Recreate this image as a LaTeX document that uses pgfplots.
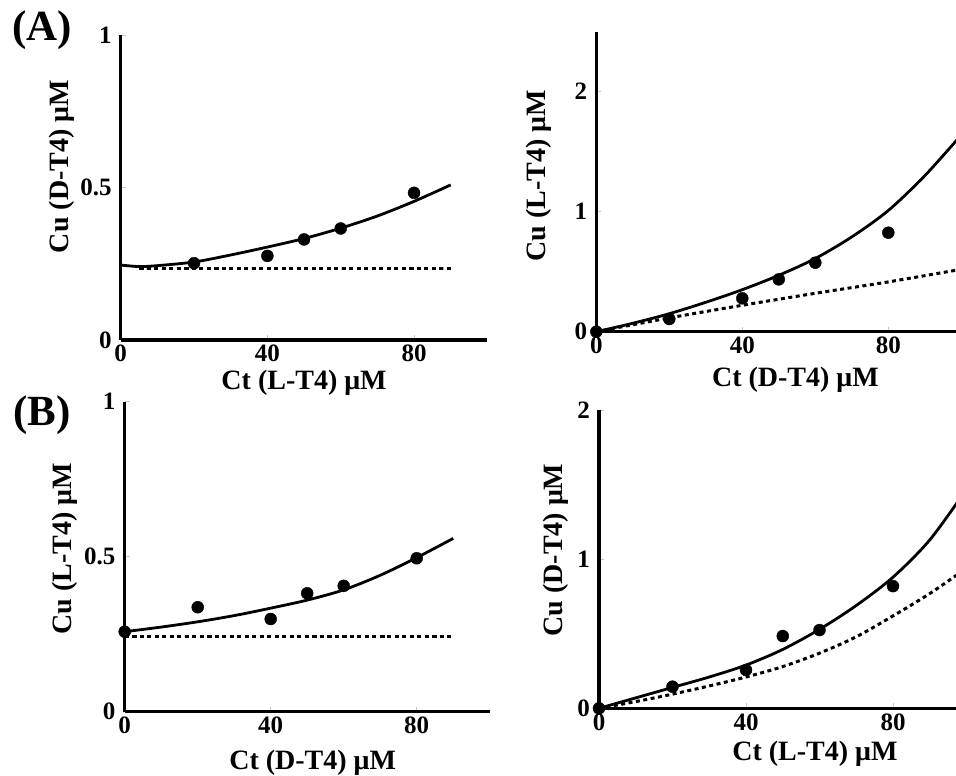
\documentclass[border=0pt]{standalone}
\usepackage{fontspec}
\setmainfont{Liberation Serif}
\usepackage{pgfplots}
\pgfplotsset{compat=1.18}

\newcommand{\labfont}{\bfseries\fontsize{28}{28}\selectfont}
\pgfplotsset{
  panel/.style={
    scale only axis,
    axis lines*=left,
    axis line style={line width=3.5pt},
    xmin=0, ymin=0,
    clip=false,
    tick align=inside,
    major tick length=5pt,
    tick style={draw=gray!45, line width=0.6pt},
    xtick={0,40,80}, xticklabels={0,40,80},
    xticklabel style={font=\bfseries\fontsize{25}{25}\selectfont, anchor=north, inner sep=0pt, yshift=-5pt},
    yticklabel style={font=\bfseries\fontsize{25}{25}\selectfont, anchor=east, inner sep=0pt, xshift=-9pt},
  },
  xlab/.style 2 args={every axis x label/.style={at={(axis description cs:#1,0)}, anchor=center, yshift=-#2, font=\labfont}},
  ylab/.style 2 args={every axis y label/.style={at={(axis description cs:0,#1)}, anchor=center, xshift=-#2, rotate=90, font=\labfont}},
  fit/.style={black, line width=2.8pt, smooth},
  base/.style={black, line width=3pt, dash pattern=on 4pt off 3.5pt, smooth},
  obs/.style={only marks, mark=*, mark size=6pt, black},
}

\begin{document}
\begin{tikzpicture}
\path[use as bounding box, clip] (0,0) rectangle (956pt,776pt);

\node[font=\bfseries\fontsize{43}{43}\selectfont] at (42pt,746pt) {(A)};
\node[font=\bfseries\fontsize{43}{43}\selectfont] at (42pt,361pt) {(B)};

% (A) left
\begin{axis}[panel, at={(120.7pt,436pt)}, anchor=south west,
  width=366.7pt, height=304.7pt, xmax=100, ymax=1,
  ytick={0,0.5,1}, yticklabels={0,0.5,1},
  xlabel={Ct (L-T4) μM}, ylabel={Cu (D-T4) μM},
  xlab={0.5}{43pt}, ylab={0.569}{59pt}]
\addplot[fit] coordinates {(0,0.246)(5,0.241)(10,0.244)(20,0.256)(30,0.279)(40,0.305)(50,0.333)(60,0.367)(70,0.407)(80,0.455)(90,0.509)};
\addplot[base] coordinates {(5,0.233)(90,0.233)};
\addplot[obs] coordinates {(20,0.252)(40,0.276)(50,0.330)(60,0.366)(80,0.483)};
\end{axis}

% (A) right
\begin{axis}[panel, at={(596.3pt,444.3pt)}, anchor=south west,
  width=401.5pt, height=300pt, xmax=110, ymax=2.5,
  ytick={0,1,2}, yticklabels={0,1,2},
  xlabel={Ct (D-T4) μM}, ylabel={Cu (L-T4) μM},
  xlab={0.496}{48pt}, ylab={0.52}{58pt}]
\addplot[fit] coordinates {(0,0)(10,0.07)(20,0.15)(30,0.245)(40,0.35)(50,0.47)(60,0.61)(70,0.79)(80,1.01)(90,1.30)(100,1.64)};
\addplot[base] coordinates {(0,0)(20,0.115)(40,0.22)(60,0.32)(80,0.415)(100,0.52)};
\addplot[obs] coordinates {(0,0)(20,0.106)(40,0.278)(50,0.436)(60,0.575)(80,0.825)};
\end{axis}

% (B) left
\begin{axis}[panel, at={(124.7pt,64.3pt)}, anchor=south west,
  width=365pt, height=310pt, xmax=100, ymax=1,
  ytick={0,0.5,1}, yticklabels={0,0.5,1},
  xlabel={Ct (D-T4) μM}, ylabel={Cu (L-T4) μM},
  xlab={0.515}{51pt}, ylab={0.526}{60pt}]
\addplot[fit] coordinates {(0,0.258)(10,0.273)(20,0.290)(30,0.310)(40,0.334)(50,0.360)(60,0.393)(70,0.440)(80,0.497)(90,0.559)};
\addplot[base] coordinates {(0,0.242)(90,0.242)};
\addplot[obs] coordinates {(0,0.258)(20,0.337)(40,0.299)(50,0.382)(60,0.406)(80,0.495)};
\end{axis}

% (B) right
\begin{axis}[panel, at={(599pt,67.7pt)}, anchor=south west,
  width=404.25pt, height=298pt, xmax=110, ymax=2,
  ytick={0,1,2}, yticklabels={0,1,2},
  xlabel={Ct (L-T4) μM}, ylabel={Cu (D-T4) μM},
  xlab={0.534}{45pt}, ylab={0.531}{43pt}]
\addplot[fit] coordinates {(0,0)(10,0.07)(20,0.14)(30,0.21)(40,0.29)(50,0.395)(60,0.53)(70,0.69)(80,0.88)(90,1.13)(100,1.47)};
\addplot[base] coordinates {(0,0)(10,0.045)(20,0.095)(30,0.15)(40,0.21)(50,0.28)(60,0.37)(70,0.48)(80,0.62)(90,0.77)(100,0.94)};
\addplot[obs] coordinates {(0,0)(20,0.145)(40,0.257)(50,0.485)(60,0.525)(80,0.82)};
\end{axis}
\end{tikzpicture}
\end{document}
